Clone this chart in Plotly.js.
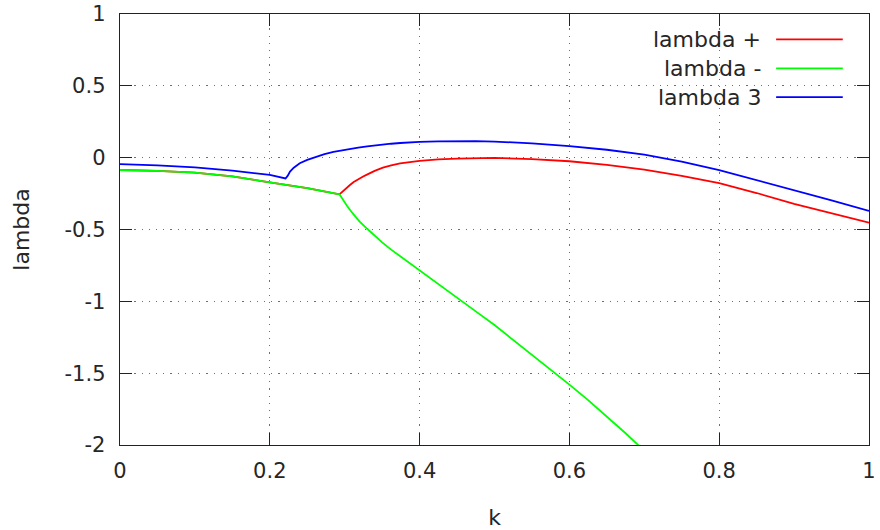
<!DOCTYPE html>
<html>
<head>
<meta charset="utf-8">
<script src="https://cdn.plot.ly/plotly-3.0.1.min.js"></script>
<style>html,body{margin:0;padding:0;background:#fff;}#chart{width:880px;height:530px;}</style>
</head>
<body>
<div id="chart"></div>
<script>
// lambda + (red)
var kPlus = [0, 0.05, 0.1, 0.15, 0.2, 0.25, 0.293, 0.297, 0.302, 0.307, 0.312, 0.318, 0.324, 0.329, 0.34, 0.351, 0.362, 0.374, 0.387, 0.4, 0.425, 0.45, 0.5, 0.55, 0.6, 0.65, 0.7, 0.75, 0.8, 0.85, 0.9, 0.95, 1];
var lambdaPlus = [-0.086, -0.092, -0.104, -0.13, -0.172, -0.212, -0.255, -0.235, -0.21, -0.19, -0.17, -0.15, -0.133, -0.12, -0.092, -0.07, -0.053, -0.04, -0.03, -0.023, -0.012, -0.006, -0.002, -0.01, -0.025, -0.05, -0.084, -0.127, -0.178, -0.246, -0.322, -0.388, -0.452];
// lambda - (green)
var kMinus = [0, 0.05, 0.1, 0.15, 0.2, 0.25, 0.293, 0.297, 0.303, 0.311, 0.32, 0.33, 0.34, 0.35, 0.362, 0.375, 0.387, 0.4, 0.425, 0.45, 0.475, 0.5, 0.55, 0.6, 0.625, 0.65, 0.675, 0.7];
var lambdaMinus = [-0.086, -0.092, -0.104, -0.13, -0.172, -0.212, -0.255, -0.29, -0.335, -0.39, -0.445, -0.495, -0.545, -0.59, -0.64, -0.69, -0.737, -0.787, -0.88, -0.975, -1.07, -1.165, -1.37, -1.58, -1.688, -1.8, -1.918, -2.04];
// lambda 3 (blue)
var k3 = [0, 0.05, 0.1, 0.15, 0.2, 0.221, 0.224, 0.227, 0.232, 0.24, 0.25, 0.262, 0.273, 0.285, 0.296, 0.307, 0.318, 0.33, 0.34, 0.351, 0.362, 0.374, 0.387, 0.4, 0.425, 0.45, 0.475, 0.5, 0.55, 0.6, 0.65, 0.7, 0.75, 0.8, 0.85, 0.9, 0.95, 1];
var lambda3 = [-0.045, -0.053, -0.068, -0.09, -0.12, -0.145, -0.125, -0.097, -0.07, -0.039, -0.015, 0.007, 0.025, 0.04, 0.051, 0.061, 0.07, 0.078, 0.085, 0.091, 0.097, 0.102, 0.107, 0.11, 0.114, 0.116, 0.115, 0.112, 0.1, 0.081, 0.055, 0.021, -0.028, -0.086, -0.155, -0.226, -0.298, -0.37];

var seriesNames = ['lambda +', 'lambda -', 'lambda 3'];
var seriesColors = ['#ff0000', '#00ff00', '#0000ff'];

var xTickVals = [0, 0.2, 0.4, 0.6, 0.8, 1];
var xTickText = ['0', '0.2', '0.4', '0.6', '0.8', '1'];
var yTickVals = [1, 0.5, 0, -0.5, -1, -1.5, -2];
var yTickText = ['1', '0.5', '0', '-0.5', '-1', '-1.5', '-2'];

var FONT = 'DejaVu Sans, sans-serif';
var TXT = '#262626';

var xs = [kPlus, kMinus, k3];
var ys = [lambdaPlus, lambdaMinus, lambda3];
var traces = xs.map(function (x, i) {
  return {x: x, y: ys[i], type: 'scatter', mode: 'lines', name: seriesNames[i],
    line: {color: seriesColors[i], width: 1.8}, showlegend: false};
});

// legend drawn gnuplot-style: text right-aligned, sample line to its right
var legendRows = [0.941, 0.874, 0.807];
var annotations = [];
var shapes = [];
seriesNames.forEach(function (n, i) {
  annotations.push({xref: 'paper', yref: 'paper', x: 0.858, y: legendRows[i], text: n,
    showarrow: false, xanchor: 'right', yanchor: 'middle', font: {family: FONT, size: 22, color: TXT}});
  shapes.push({type: 'line', xref: 'paper', yref: 'paper', x0: 0.876, x1: 0.965,
    y0: legendRows[i], y1: legendRows[i], line: {color: seriesColors[i], width: 1.8}});
});

var axisCommon = {
  showline: true, mirror: 'ticks', linecolor: '#222', linewidth: 1.3,
  ticks: 'inside', ticklen: 12, tickcolor: '#222', tickwidth: 1.3,
  showgrid: true, gridcolor: '#6f6f6f', gridwidth: 1, griddash: '1.2px,6px',
  zeroline: false, tickfont: {family: FONT, size: 21, color: TXT}
};

var layout = {
  width: 880, height: 530,
  margin: {l: 120, r: 11, t: 14, b: 85},
  paper_bgcolor: '#fff', plot_bgcolor: '#fff',
  xaxis: Object.assign({}, axisCommon, {
    range: [0, 1], tickvals: xTickVals, ticktext: xTickText, ticklabelstandoff: 6,
    title: {text: 'k', font: {family: FONT, size: 22, color: TXT}, standoff: 29}
  }),
  yaxis: Object.assign({}, axisCommon, {
    range: [-2, 1], tickvals: yTickVals, ticktext: yTickText, ticklabelstandoff: 9,
    title: {text: 'lambda', font: {family: FONT, size: 22, color: TXT}, standoff: 28}
  }),
  annotations: annotations,
  shapes: shapes,
  showlegend: false
};

Plotly.newPlot('chart', traces, layout, {displayModeBar: false, staticPlot: true});
</script>
</body>
</html>
